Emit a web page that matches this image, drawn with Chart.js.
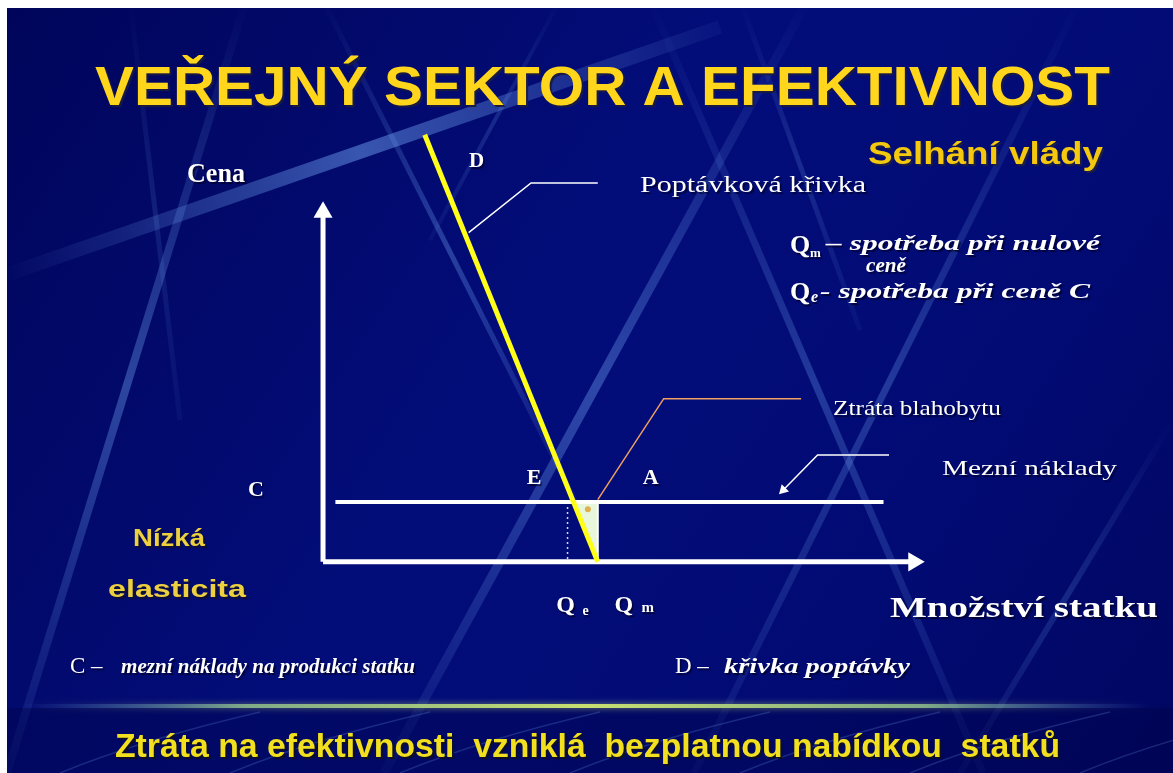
<!DOCTYPE html>
<html>
<head>
<meta charset="utf-8">
<script src="https://cdn.jsdelivr.net/npm/chart.js@4"></script>
<style>
  html, body { margin: 0; padding: 0; background: #00065e; overflow: hidden; }
  #box { position: relative; width: 1173px; height: 773px; }
</style>
</head>
<body>
<div id="box"><canvas id="slideChart"></canvas></div>
<script>
// quantity (Q) / price (P) values of the diagram
const demandQ = [3.7, 10];
const demandP = [15.7, 0];
const costQ = [0.45, 20.4];
const costP = [2.2, 2.2];
const lossQ = [9.1, 10];
const lossP = [2.2, 0];
const qeLineQ = [8.9, 8.9];
const qeLineP = [2.2, 0];
const qmEdgeQ = [10, 10];
const qmEdgeP = [2.2, 0];
const yAxisQ = [0, 0];
const yAxisP = [0, 12.85];
const xAxisQ = [0, 21.5];
const xAxisP = [0, 0];
// callout lines
const demandNoteQ = [10.0, 7.57, 5.3];
const demandNoteP = [13.93, 13.93, 12.1];
const lossNoteQ = [17.4, 12.4, 10.0];
const lossNoteP = [6.0, 6.0, 2.29];
const costNoteQ = [20.6, 18.0, 16.75];
const costNoteP = [3.93, 3.93, 2.64];

// 28 px per unit, origin of the diagram at (318, 567)
const unit = 28;
const W = 1173, H = 773, ox = 318, oy = 567;

const pts = (xs, ys) => xs.map((x, i) => ({x: x, y: ys[i]}));

const ctx = document.querySelector('#slideChart').getContext('2d');

const streaks = [
    [0, 277, 720, 27, 14, 0.5],
    [246, 0, 7, 773, 8, 0.4],
    [323, 0, 575, 500, 5, 0.35],
    [808, 0, 384, 773, 9, 0.4],
    [650, 0, 983, 773, 7, 0.3],
    [1080, 0, 694, 773, 7, 0.3],
    [740, 0, 860, 330, 5, 0.2],
    [130, 0, 180, 420, 5, 0.15],
    [1173, 420, 960, 773, 6, 0.2],
    [560, 0, 430, 240, 4, 0.2]
];

const background = {
    id: 'background',
    beforeDraw(chart) {
        const c = chart.ctx;
        c.save();
        let g = c.createLinearGradient(0, 0, W, H);
        g.addColorStop(0, '#00055a');
        g.addColorStop(0.45, '#030d7a');
        g.addColorStop(0.75, '#020b74');
        g.addColorStop(1, '#000660');
        c.fillStyle = g;
        c.fillRect(0, 0, W, H);

        streaks.forEach(s => {
            const sg = c.createLinearGradient(s[0], s[1], s[2], s[3]);
            sg.addColorStop(0, 'rgba(110,160,240,0)');
            sg.addColorStop(0.5, 'rgba(110,160,240,' + s[5] + ')');
            sg.addColorStop(1, 'rgba(110,160,240,0.05)');
            c.strokeStyle = sg;
            c.lineWidth = s[4];
            c.beginPath();
            c.moveTo(s[0], s[1]);
            c.lineTo(s[2], s[3]);
            c.stroke();
        });

        // bottom bar
        c.fillStyle = 'rgba(0,4,70,0.35)';
        c.fillRect(0, 708, W, H - 708);
        c.lineWidth = 1.5;
        for (let i = 0; i < 7; i++) {
            c.strokeStyle = 'rgba(120,160,240,0.22)';
            c.beginPath();
            c.moveTo(60 + i * 170, 773);
            c.quadraticCurveTo(140 + i * 170, 740, 260 + i * 170, 712);
            c.stroke();
        }
        const lg = c.createLinearGradient(20, 0, 1150, 0);
        lg.addColorStop(0, 'rgba(60,110,210,0)');
        lg.addColorStop(0.2, 'rgba(150,200,140,0.8)');
        lg.addColorStop(0.5, '#c8e070');
        lg.addColorStop(0.8, 'rgba(150,200,140,0.8)');
        lg.addColorStop(1, 'rgba(60,110,210,0)');
        c.strokeStyle = lg;
        c.lineWidth = 4;
        c.shadowColor = 'rgba(200,230,120,0.6)';
        c.shadowBlur = 6;
        c.beginPath();
        c.moveTo(20, 706);
        c.lineTo(1150, 706);
        c.stroke();
        c.shadowBlur = 0;

        // white frame on top and left
        c.fillStyle = '#ffffff';
        c.fillRect(0, 0, W, 8);
        c.fillRect(0, 0, 7, H);
        c.restore();
    }
};

function fitText(c, s, x, y, w, font, color, shadow) {
    c.save();
    c.font = font;
    const m = c.measureText(s).width;
    c.translate(x, y);
    c.scale(w / m, 1);
    if (shadow) {
        c.shadowColor = shadow;
        c.shadowOffsetX = 2;
        c.shadowOffsetY = 2;
        c.shadowBlur = 1;
    }
    c.fillStyle = color;
    c.textAlign = 'left';
    c.textBaseline = 'alphabetic';
    c.fillText(s, 0, 0);
    c.restore();
}

function text(c, s, x, y, font, color, align, shadow) {
    c.save();
    c.font = font;
    c.fillStyle = color;
    c.textAlign = align || 'left';
    c.textBaseline = 'alphabetic';
    if (shadow) {
        c.shadowColor = shadow;
        c.shadowOffsetX = 1.5;
        c.shadowOffsetY = 1.5;
        c.shadowBlur = 1;
    }
    c.fillText(s, x, y);
    c.restore();
}

const labels = {
    id: 'labels',
    afterDraw(chart) {
        const c = chart.ctx;
        const xs = chart.scales.x, ys = chart.scales.y;
        const px = v => xs.getPixelForValue(v);
        const py = v => ys.getPixelForValue(v);
        const serifB = 'bold 24px "Liberation Serif", "DejaVu Serif", serif';
        const shade = 'rgba(0,0,30,0.7)';
        const white = '#ffffff';

        // title block
        const tg = c.createLinearGradient(0, 64, 0, 106);
        tg.addColorStop(0, '#ffd61c');
        tg.addColorStop(1, '#f2b000');
        fitText(c, 'VEŘEJNÝ SEKTOR A EFEKTIVNOST', 95, 105, 1015,
            'bold 56px "Liberation Sans", Arial, sans-serif', tg, '#1a1a40');
        fitText(c, 'Selhání vlády', 868, 164, 235,
            'bold 31px "Liberation Sans", Arial, sans-serif', '#f5c810', '#202040');

        // axis captions
        fitText(c, 'Cena', 187, 182, 58, 'bold 28px "Liberation Serif", serif', white, shade);
        fitText(c, 'Množství statku', 890, 617, 268, 'bold 30px "Liberation Serif", serif', white, shade);

        // diagram letters tied to the data
        text(c, 'D', px(demandQ[0]) + 52, 167, 'bold 21px "Liberation Serif", serif', white, 'center', shade);
        text(c, 'C', 256, py(costP[0]) - 6, 'bold 22px "Liberation Serif", serif', white, 'center', shade);
        text(c, 'E', px(lossQ[0]) - 39, py(costP[0]) - 18, 'bold 22px "Liberation Serif", serif', white, 'center', shade);
        text(c, 'A', px(qmEdgeQ[0]) + 53, py(costP[0]) - 18, 'bold 22px "Liberation Serif", serif', white, 'center', shade);
        text(c, 'Q', px(qeLineQ[0]) - 2, 612, serifB, white, 'center', shade);
        text(c, 'e', px(qeLineQ[0]) + 18, 615, 'bold 14px "Liberation Serif", serif', white, 'center', shade);
        text(c, 'Q', px(qmEdgeQ[0]) + 26, 612, serifB, white, 'center', shade);
        text(c, 'm', px(qmEdgeQ[0]) + 50, 612, 'bold 15px "Liberation Serif", serif', white, 'center', shade);

        // callout captions
        fitText(c, 'Poptávková křivka', 640, 192, 226, '23px "Liberation Serif", serif', white, shade);
        fitText(c, 'Ztráta blahobytu', 833, 415, 168, '22px "Liberation Serif", serif', white, shade);
        fitText(c, 'Mezní náklady', 942, 475, 175, '22px "Liberation Serif", serif', white, shade);

        // definitions on the right
        text(c, 'Q', 790, 253, 'bold 26px "Liberation Serif", serif', white, 'left', shade);
        text(c, 'm', 810, 257, 'bold 13px "Liberation Serif", serif', white, 'left', shade);
        fitText(c, '– spotřeba při nulové', 826, 250, 274, 'italic bold 22px "Liberation Serif", serif', white, shade);
        fitText(c, 'ceně', 866, 272, 40, 'italic bold 20px "Liberation Serif", serif', white, shade);
        text(c, 'Q', 790, 300, 'bold 26px "Liberation Serif", serif', white, 'left', shade);
        text(c, 'e', 811, 302, 'italic bold 16px "Liberation Serif", serif', white, 'left', shade);
        fitText(c, '- spotřeba při ceně C', 820, 298, 270, 'italic bold 22px "Liberation Serif", serif', white, shade);

        // low elasticity note
        fitText(c, 'Nízká', 133, 546, 72, 'bold 24px "Liberation Sans", Arial, sans-serif', '#ecd040', '#101030');
        fitText(c, 'elasticita', 108, 597, 138, 'bold 24px "Liberation Sans", Arial, sans-serif', '#ecd040', '#101030');

        // legend lines at the bottom
        text(c, 'C –', 70, 673, '23px "Liberation Serif", serif', white, 'left', shade);
        fitText(c, 'mezní náklady na produkci statku', 121, 673, 294, 'italic bold 22px "Liberation Serif", serif', white, shade);
        text(c, 'D –', 675, 673, '23px "Liberation Serif", serif', white, 'left', shade);
        fitText(c, 'křivka poptávky', 724, 673, 186, 'italic bold 22px "Liberation Serif", serif', white, shade);

        // bottom bar caption
        fitText(c, 'Ztráta na efektivnosti  vzniklá  bezplatnou nabídkou  statků', 115, 757, 945,
            'bold 34px "Liberation Sans", Arial, sans-serif', '#f2e020', '#101020');
    }
};

const data = {
    datasets: [
        {
            label: 'Poptávková křivka',
            data: pts(demandQ, demandP),
            borderColor: '#ffff1a',
            borderWidth: 5,
            order: 0
        },
        {
            label: 'Ztráta blahobytu',
            data: pts(lossQ, lossP),
            borderColor: 'rgba(0,0,0,0)',
            borderWidth: 0,
            backgroundColor: '#e8f7dc',
            fill: {value: 2.2},
            order: 3
        },
        {
            label: 'Qm edge',
            data: pts(qmEdgeQ, qmEdgeP),
            borderColor: '#ffffff',
            borderWidth: 2,
            order: 2
        },
        {
            label: 'Qe',
            data: pts(qeLineQ, qeLineP),
            borderColor: 'rgba(255,255,255,0.85)',
            borderWidth: 1.5,
            borderDash: [2, 3],
            order: 2
        },
        {
            label: 'Mezní náklady',
            data: pts(costQ, costP),
            borderColor: '#ffffff',
            borderWidth: 4,
            order: 1
        },
        {
            label: 'Cena osa',
            data: pts(yAxisQ, yAxisP),
            borderColor: '#ffffff',
            borderWidth: 5,
            pointRadius: [0, 11],
            pointStyle: 'triangle',
            pointBackgroundColor: '#ffffff',
            pointBorderWidth: 0,
            order: 1
        },
        {
            label: 'Množství osa',
            data: pts(xAxisQ, xAxisP),
            borderColor: '#ffffff',
            borderWidth: 5,
            pointRadius: [0, 11],
            pointStyle: 'triangle',
            pointRotation: 90,
            pointBackgroundColor: '#ffffff',
            pointBorderWidth: 0,
            order: 1
        },
        {
            label: 'popis D',
            data: pts(demandNoteQ, demandNoteP),
            borderColor: '#ffffff',
            borderWidth: 1.5,
            order: 4
        },
        {
            label: 'popis ztráta',
            data: pts(lossNoteQ, lossNoteP),
            borderColor: '#f0a060',
            borderWidth: 1.5,
            order: 4
        },
        {
            label: 'bod ztráta',
            data: [{x: 9.64, y: 1.93}],
            showLine: false,
            pointRadius: 3,
            pointBackgroundColor: '#e0b050',
            pointBorderWidth: 0,
            order: 0
        },
        {
            label: 'popis MC',
            data: pts(costNoteQ, costNoteP),
            borderColor: '#ffffff',
            borderWidth: 1.5,
            pointRadius: [0, 0, 6],
            pointStyle: 'triangle',
            pointRotation: 225,
            pointBackgroundColor: '#ffffff',
            pointBorderWidth: 0,
            order: 4
        }
    ]
};

const config = {
    type: 'scatter',
    data: data,
    options: {
        responsive: true,
        maintainAspectRatio: false,
        animation: false,
        showLine: true,
        elements: {
            point: { radius: 0, hoverRadius: 0 },
            line: { tension: 0 }
        },
        layout: { padding: 0 },
        scales: {
            x: {
                type: 'linear',
                display: false,
                min: -ox / unit,
                max: (W - ox) / unit
            },
            y: {
                type: 'linear',
                display: false,
                min: -(H - oy) / unit,
                max: oy / unit
            }
        },
        plugins: {
            legend: { display: false },
            tooltip: { enabled: false }
        }
    },
    plugins: [background, labels]
};

new Chart(ctx, config);
</script>
</body>
</html>
